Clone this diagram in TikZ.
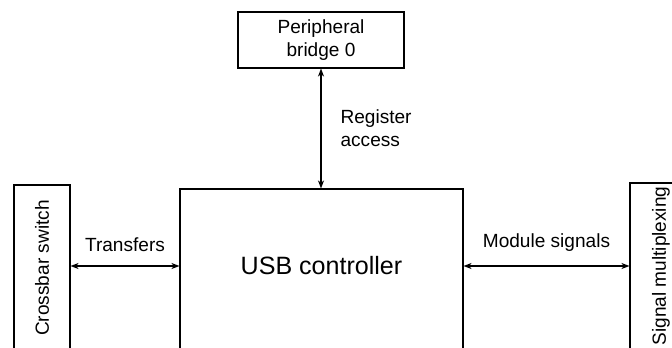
\documentclass[tikz,border=0pt]{standalone}
\usepackage{fontspec}
\setmainfont{Liberation Sans}
\usetikzlibrary{arrows.meta}

\begin{document}
\begin{tikzpicture}[
    x=0.75pt, y=-0.75pt,
    box/.style={draw, line width=0.8pt, inner sep=0pt, font=\fontsize{14.3}{17.2}\selectfont, align=center},
    link/.style={{Stealth[length=6pt, width=4.5pt, inset=1.8pt]}-{Stealth[length=6pt, width=4.5pt, inset=1.8pt]}, line width=0.9pt},
    lbl/.style={inner sep=0pt, font=\fontsize{14.3}{17.2}\selectfont, align=left},
  ]
  \useasboundingbox (0,0) rectangle (672,347);
  \clip (0,0) rectangle (672,347);
  % les blocs (coupes par le bas de la figure)
  \node[box, minimum width=124.5pt, minimum height=42pt] (bridge) at (321,40) {Peripheral\\bridge 0};
  \node[box, minimum width=212.25pt, minimum height=166.5pt] (main) at (321.5,300) {};
  \node[inner sep=0pt, font=\fontsize{18.8}{22}\selectfont] (ctrl) at (321.5,266) {USB controller};
  \node[box, minimum width=42pt, minimum height=124.5pt] (cross) at (42,268) {\rotatebox{90}{Crossbar switch}};
  \node[box, minimum width=46.5pt, minimum height=124.5pt] (mux) at (661,266) {\rotatebox{90}{Signal multiplexing}};
  % les liaisons
  \draw[link] (bridge.south) -- (bridge.south |- main.north)
    node[lbl, midway, right=14.25pt] (regacc) {Register\\access};
  \draw[link] (cross.east |- ctrl) -- (main.west |- ctrl)
    node[lbl, midway, above=10.5pt] (xfers) {Transfers};
  \draw[link] (main.east |- ctrl) -- (mux.west |- ctrl)
    node[lbl, midway, above=10.5pt] (modsig) {Module signals};
\end{tikzpicture}
\end{document}
